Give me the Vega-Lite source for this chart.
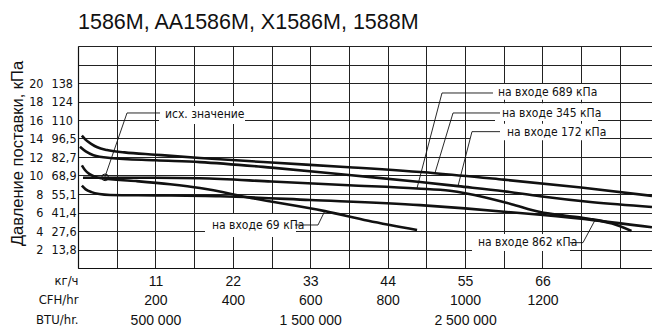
{
  "$schema": "https://vega.github.io/schema/vega-lite/v6.json",
  "width": 574,
  "height": 222,
  "autosize": {"type": "none"},
  "padding": {"left": 78, "top": 46, "right": 0, "bottom": 59},
  "background": "white",
  "title": {"text": "1586M, AA1586M, X1586M, 1588M", "anchor": "start", "frame": "group", "font": "Liberation Sans", "fontSize": 21.5, "fontWeight": "normal", "color": "#111", "offset": 7},
  "config": {"view": {"stroke": null}},
  "resolve": {"axis": {"y": "independent"}},
  "encoding": {
    "x": {"field": "q", "type": "quantitative", "scale": {"domain": [0, 1483], "nice": false, "zero": false},
      "axis": {
        "orient": "bottom",
        "values": [0, 100, 200, 300, 400, 500, 600, 700, 800, 900, 1000, 1100, 1200, 1300, 1400],
        "title": null,
        "grid": true, "gridColor": "#222", "gridWidth": 1, "gridOpacity": 1,
        "ticks": false,
        "domain": true, "domainColor": "#111", "domainWidth": 1.2,
        "labelExpr": "datum.value == 0 ? ['кг/ч','CFH/hr','BTU/hr.'] : datum.value == 200 ? ['11','200','500 000'] : datum.value == 400 ? ['22','400',''] : datum.value == 600 ? ['33','600','1 500 000'] : datum.value == 800 ? ['44','800',''] : datum.value == 1000 ? ['55','1000','2 500 000'] : datum.value == 1200 ? ['66','1200',''] : ''",
        "labelAlign": {"condition": {"test": "datum.value == 0", "value": "right"}, "value": "center"},
        "labelFont": {"condition": {"test": "datum.value == 0", "value": "DejaVu Sans Condensed"}, "value": "Liberation Sans"},
        "labelFontSize": {"condition": {"test": "datum.value == 0", "value": 13}, "value": 14},
        "labelColor": "#111",
        "labelBaseline": "top",
        "labelPadding": 6,
        "labelLineHeight": 19.5,
        "labelOverlap": false,
        "labelFlush": false,
        "labelBound": false
      }
    }
  },
  "layer": [
    {
      "data": {"values": [
        {"q": 209.3, "q2": 431.5, "p": 17.51, "p2": 15.57},
        {"q": 328.1, "q2": 563.2, "p": 5.84, "p2": 3.35},
        {"q": 1072.2, "q2": 1330.5, "p": 19.89, "p2": 18.2},
        {"q": 1077.4, "q2": 1343.5, "p": 17.8, "p2": 15.9},
        {"q": 1012.8, "q2": 1348.6, "p": 15.6, "p2": 13.8},
        {"q": 1017.9, "q2": 1271.1, "p": 3.68, "p2": 1.84}
      ]},
      "mark": {"type": "rect", "fill": "white", "strokeWidth": 0},
      "encoding": {
        "x2": {"field": "q2"},
        "y": {"field": "p", "type": "quantitative", "scale": {"domain": [0, 24], "nice": false, "zero": false},
          "axis": {
            "orient": "left",
            "values": [0, 2, 4, 6, 8, 10, 12, 14, 16, 18, 20, 22, 24],
            "title": "Давление поставки, кПа",
            "titleFont": "Liberation Sans", "titleFontSize": 16.5, "titleFontWeight": "normal", "titleColor": "#111",
            "titleAngle": -90, "titleX": -61, "titleY": 107, "titleBaseline": "middle", "titleAlign": "center",
            "labelExpr": "datum.value == 2 ? '13,8' : datum.value == 4 ? '27,6' : datum.value == 6 ? '41,4' : datum.value == 8 ? '55,1' : datum.value == 10 ? '68,9' : datum.value == 12 ? '82,7' : datum.value == 14 ? '96,5' : datum.value == 16 ? '110' : datum.value == 18 ? '124' : datum.value == 20 ? '138' : ''",
            "labelAlign": "left", "labelPadding": 27, "labelBaseline": "middle",
            "labelFont": "DejaVu Sans Condensed", "labelFontSize": 12.5, "labelColor": "#111",
            "ticks": false,
            "domain": true, "domainColor": "#111", "domainWidth": 1.2,
            "grid": true, "gridColor": "#222", "gridWidth": 1, "gridOpacity": 1,
            "labelOverlap": false, "labelFlush": false, "labelBound": false
          }
        },
        "y2": {"field": "p2"}
      }
    },
    {
      "data": {"values": [
        {"s": "345", "q": 10, "p": 14.3}, {"s": "345", "q": 20, "p": 13.85}, {"s": "345", "q": 35, "p": 13.4}, {"s": "345", "q": 50, "p": 13.05}, {"s": "345", "q": 75, "p": 12.75}, {"s": "345", "q": 120, "p": 12.5}, {"s": "345", "q": 200, "p": 12.25}, {"s": "345", "q": 315, "p": 11.9}, {"s": "345", "q": 500, "p": 11.4}, {"s": "345", "q": 700, "p": 10.9}, {"s": "345", "q": 922, "p": 10.25}, {"s": "345", "q": 1100, "p": 9.55}, {"s": "345", "q": 1300, "p": 8.7}, {"s": "345", "q": 1483, "p": 7.8},
        {"s": "172", "q": 5, "p": 13.1}, {"s": "172", "q": 20, "p": 12.6}, {"s": "172", "q": 40, "p": 12.2}, {"s": "172", "q": 83, "p": 11.9}, {"s": "172", "q": 200, "p": 11.65}, {"s": "172", "q": 315, "p": 11.45}, {"s": "172", "q": 500, "p": 10.85}, {"s": "172", "q": 700, "p": 10.05}, {"s": "172", "q": 884, "p": 9.3}, {"s": "172", "q": 982, "p": 8.85}, {"s": "172", "q": 1100, "p": 8.3}, {"s": "172", "q": 1194, "p": 7.75}, {"s": "172", "q": 1330, "p": 7.1}, {"s": "172", "q": 1483, "p": 6.6},
        {"s": "689", "q": 13, "p": 9.75}, {"s": "689", "q": 100, "p": 9.75}, {"s": "689", "q": 200, "p": 9.75}, {"s": "689", "q": 315, "p": 9.7}, {"s": "689", "q": 500, "p": 9.35}, {"s": "689", "q": 700, "p": 8.95}, {"s": "689", "q": 876, "p": 8.6}, {"s": "689", "q": 961, "p": 8.35}, {"s": "689", "q": 1050, "p": 7.65}, {"s": "689", "q": 1120, "p": 6.9}, {"s": "689", "q": 1194, "p": 6.05}, {"s": "689", "q": 1260, "p": 5.65}, {"s": "689", "q": 1323, "p": 5.3}, {"s": "689", "q": 1380, "p": 4.8}, {"s": "689", "q": 1430, "p": 4.0},
        {"s": "862", "q": 10, "p": 8.9}, {"s": "862", "q": 20, "p": 8.5}, {"s": "862", "q": 35, "p": 8.2}, {"s": "862", "q": 55, "p": 8.0}, {"s": "862", "q": 83, "p": 7.9}, {"s": "862", "q": 200, "p": 7.85}, {"s": "862", "q": 367, "p": 7.75}, {"s": "862", "q": 600, "p": 7.35}, {"s": "862", "q": 884, "p": 6.8}, {"s": "862", "q": 1000, "p": 6.45}, {"s": "862", "q": 1194, "p": 5.75}, {"s": "862", "q": 1336, "p": 5.15}, {"s": "862", "q": 1483, "p": 4.4},
        {"s": "69", "q": 10, "p": 11.1}, {"s": "69", "q": 18, "p": 10.6}, {"s": "69", "q": 30, "p": 10.15}, {"s": "69", "q": 45, "p": 9.85}, {"s": "69", "q": 60, "p": 9.7}, {"s": "69", "q": 150, "p": 9.4}, {"s": "69", "q": 238, "p": 9.05}, {"s": "69", "q": 315, "p": 8.65}, {"s": "69", "q": 450, "p": 7.55}, {"s": "69", "q": 638, "p": 6.15}, {"s": "69", "q": 750, "p": 5.1}, {"s": "69", "q": 876, "p": 4.1}
      ]},
      "mark": {"type": "line", "color": "#111", "strokeWidth": 2.6, "interpolate": "monotone"},
      "encoding": {
        "y": {"field": "p", "type": "quantitative", "scale": {"domain": [0, 24], "nice": false, "zero": false},
          "axis": {
            "orient": "left",
            "values": [2, 4, 6, 8, 10, 12, 14, 16, 18, 20],
            "title": null,
            "labelAlign": "right", "labelPadding": 35, "labelBaseline": "middle",
            "labelFont": "DejaVu Sans Condensed", "labelFontSize": 12.5, "labelColor": "#111",
            "ticks": false, "domain": false, "grid": false,
            "labelOverlap": false, "labelFlush": false, "labelBound": false
          }
        },
        "detail": {"field": "s", "type": "nominal"}
      }
    },
    {
      "data": {"values": [
        {"id": "ref", "o": 1, "q": 69.8, "p": 9.87}, {"id": "ref", "o": 2, "q": 126.6, "p": 16.76}, {"id": "ref", "o": 3, "q": 211.9, "p": 16.76},
        {"id": "69", "o": 1, "q": 560.6, "p": 4.65}, {"id": "69", "o": 2, "q": 620.1, "p": 4.65}, {"id": "69", "o": 3, "q": 638.1, "p": 6.2},
        {"id": "689", "o": 1, "q": 1072.2, "p": 18.92}, {"id": "689", "o": 2, "q": 940.4, "p": 18.92}, {"id": "689", "o": 3, "q": 875.8, "p": 8.62},
        {"id": "345", "o": 1, "q": 1090.3, "p": 16.76}, {"id": "345", "o": 2, "q": 968.9, "p": 16.76}, {"id": "345", "o": 3, "q": 922.3, "p": 10.27},
        {"id": "172", "o": 1, "q": 1090.3, "p": 14.74}, {"id": "172", "o": 2, "q": 1017.9, "p": 14.74}, {"id": "172", "o": 3, "q": 981.8, "p": 8.86},
        {"id": "862", "o": 1, "q": 1271.1, "p": 2.74}, {"id": "862", "o": 2, "q": 1304.7, "p": 2.74}, {"id": "862", "o": 3, "q": 1335.7, "p": 5.17}
      ]},
      "mark": {"type": "line", "color": "#111", "strokeWidth": 0.9},
      "encoding": {
        "y": {"field": "p", "type": "quantitative", "scale": {"domain": [0, 24], "nice": false, "zero": false}, "axis": null},
        "detail": {"field": "id", "type": "nominal"},
        "order": {"field": "o", "type": "quantitative"}
      }
    },
    {
      "data": {"values": [{"q": 70, "p": 9.8}]},
      "mark": {"type": "point", "shape": "circle", "filled": false, "size": 45, "stroke": "#111", "strokeWidth": 1, "opacity": 1},
      "encoding": {
        "y": {"field": "p", "type": "quantitative", "scale": {"domain": [0, 24], "nice": false, "zero": false}, "axis": null}
      }
    },
    {
      "data": {"values": [
        {"t": "исх. значение", "q": 224.8, "p": 16.65},
        {"t": "на входе 69 кПа", "q": 346.2, "p": 4.65},
        {"t": "на входе 689 кПа", "q": 1085.1, "p": 19.03},
        {"t": "на входе 345 кПа", "q": 1095.4, "p": 16.76},
        {"t": "на входе 172 кПа", "q": 1108.4, "p": 14.7},
        {"t": "на входе 862 кПа", "q": 1033.4, "p": 2.76}
      ]},
      "mark": {"type": "text", "align": "left", "baseline": "middle", "font": "DejaVu Sans Condensed", "fontSize": 12, "color": "#111"},
      "encoding": {
        "y": {"field": "p", "type": "quantitative", "scale": {"domain": [0, 24], "nice": false, "zero": false}, "axis": null},
        "text": {"field": "t", "type": "nominal"}
      }
    }
  ]
}
